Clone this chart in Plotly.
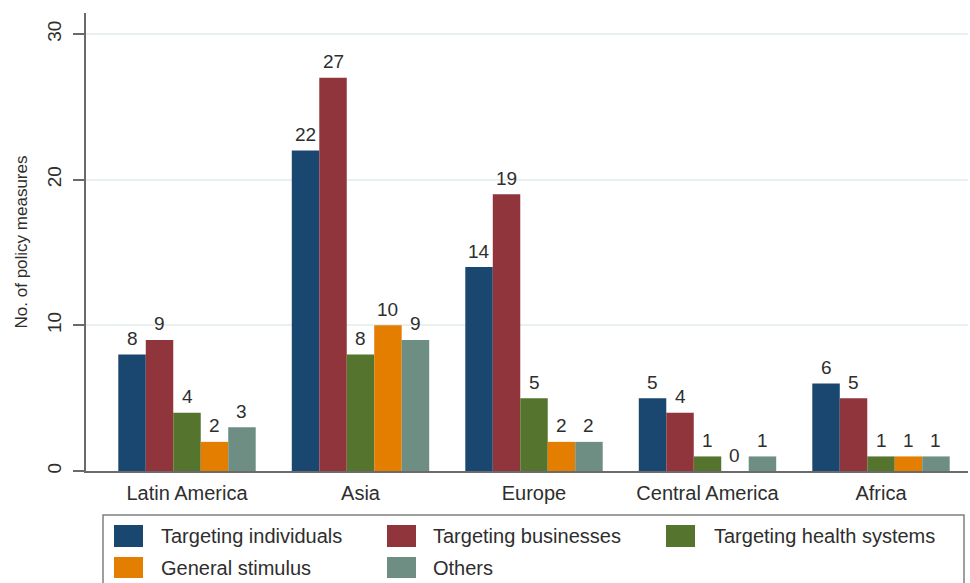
import plotly.graph_objects as go

# Policy measures by region and type
regions = ["Latin America", "Asia", "Europe", "Central America", "Africa"]
series_names = [
    "Targeting individuals",
    "Targeting businesses",
    "Targeting health systems",
    "General stimulus",
    "Others",
]
individuals = [8, 22, 14, 5, 6]
businesses = [9, 27, 19, 4, 5]
health_systems = [4, 8, 5, 1, 1]
general_stimulus = [2, 10, 2, 0, 1]
others = [3, 9, 2, 1, 1]
y_ticks = [0, 10, 20, 30]

series_values = [individuals, businesses, health_systems, general_stimulus, others]
colors = ["#1a476f", "#90353b", "#55752f", "#e37e00", "#6e8e84"]

W, H = 970, 583
M_L, M_R, M_T, M_B = 86, 2, 13, 112
plot_w = W - M_L - M_R
plot_h = H - M_T - M_B

group_px = 173.5
bargap = 0.208
bar_px = group_px * (1 - bargap) / len(series_names)
x_lo = -(187 - M_L) / group_px
x_hi = x_lo + plot_w / group_px
y_hi = 31.44

FONT = "Liberation Sans, Arial, sans-serif"
TXT = "#2e2e2e"


def px_x(p):
    return (p - M_L) / plot_w


def px_y(p):
    return (H - M_B - p) / plot_h


fig = go.Figure()
for name, vals, col in zip(series_names, series_values, colors):
    fig.add_trace(
        go.Bar(
            name=name,
            x=regions,
            y=vals,
            marker=dict(color=col, line=dict(width=0)),
            showlegend=False,
        )
    )

annotations = []
n = len(series_names)
for i, vals in enumerate(series_values):
    for reg, v in zip(regions, vals):
        annotations.append(
            dict(
                x=reg,
                y=v,
                xref="x",
                yref="y",
                text=str(v),
                showarrow=False,
                xshift=(i - (n - 1) / 2) * bar_px,
                yshift=16,
                yanchor="middle",
                font=dict(family=FONT, size=19, color=TXT),
            )
        )

# Legend drawn as a framed key below the plot
shapes = [
    dict(
        type="rect", xref="paper", yref="paper",
        x0=px_x(103), x1=px_x(964), y0=px_y(600), y1=px_y(515),
        line=dict(color="#808080", width=1.5), fillcolor="rgba(0,0,0,0)",
        layer="above",
    )
]
legend_cols = [(114, 159), (387, 431), (666, 712)]
legend_rows = [(525, 547), (557, 578)]
for k, (name, col) in enumerate(zip(series_names, colors)):
    r, c = divmod(k, 3)
    sx, tx = legend_cols[c]
    y0, y1 = legend_rows[r]
    shapes.append(
        dict(
            type="rect", xref="paper", yref="paper",
            x0=px_x(sx), x1=px_x(sx + 29), y0=px_y(y1), y1=px_y(y0),
            line=dict(width=0), fillcolor=col, layer="above",
        )
    )
    annotations.append(
        dict(
            x=px_x(tx), y=px_y((y0 + y1) / 2), xref="paper", yref="paper",
            text=name, showarrow=False, xanchor="left", yanchor="middle",
            font=dict(family=FONT, size=20, color=TXT),
        )
    )

fig.update_layout(
    width=W,
    height=H,
    margin=dict(l=M_L, r=M_R, t=M_T, b=M_B, autoexpand=False),
    paper_bgcolor="white",
    plot_bgcolor="white",
    barmode="group",
    bargap=bargap,
    bargroupgap=0,
    showlegend=False,
    annotations=annotations,
    shapes=shapes,
    font=dict(family=FONT, color=TXT),
)
fig.update_xaxes(
    range=[x_lo, x_hi],
    showline=True,
    linecolor="#6a6a6a",
    linewidth=1.5,
    ticks="",
    showgrid=False,
    zeroline=False,
    tickfont=dict(family=FONT, size=20, color=TXT),
    ticklabelstandoff=3,
)
fig.update_yaxes(
    range=[0, y_hi],
    tickvals=y_ticks,
    tickangle=-90,
    showline=True,
    linecolor="#6a6a6a",
    linewidth=1.5,
    ticks="outside",
    ticklen=11,
    tickwidth=1.5,
    tickcolor="#6a6a6a",
    showgrid=True,
    gridcolor="#e8f0f2",
    gridwidth=1.5,
    zeroline=False,
    tickfont=dict(family=FONT, size=19, color=TXT),
    ticklabelstandoff=5,
    title=dict(
        text="No. of policy measures",
        font=dict(family=FONT, size=17, color=TXT),
        standoff=12,
    ),
)

fig.write_html("out.html")
